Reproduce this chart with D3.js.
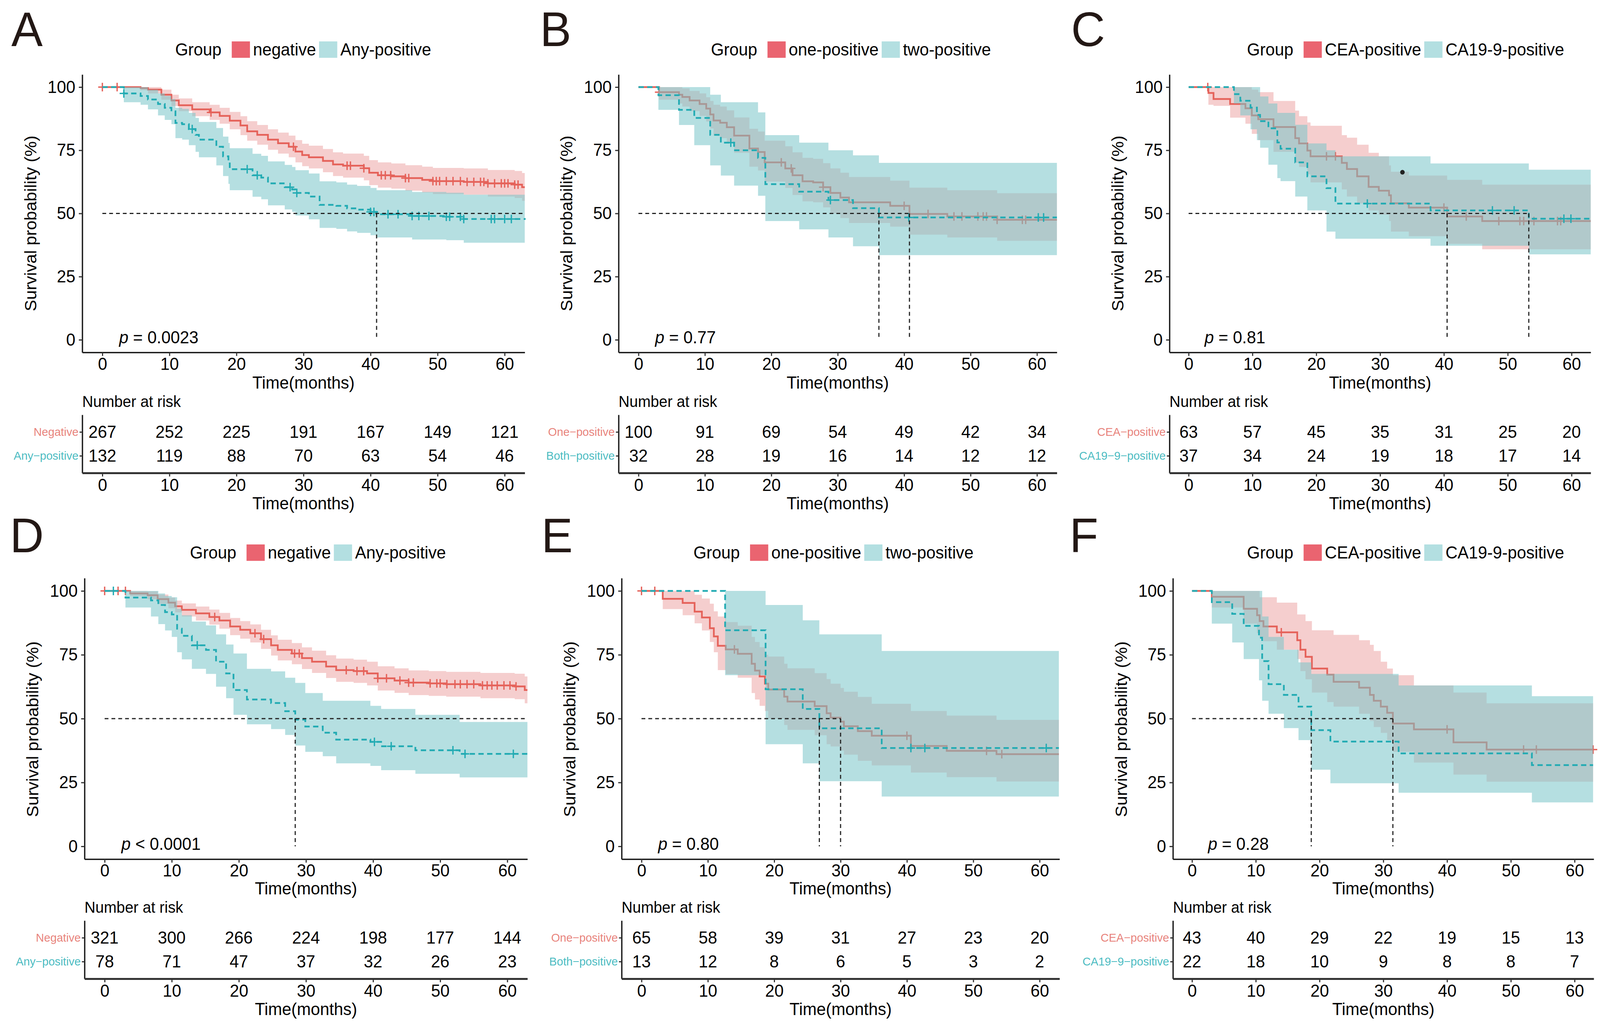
<!DOCTYPE html>
<html>
<head>
<meta charset="utf-8">
<script src="https://cdn.jsdelivr.net/npm/d3@7"></script>
<style>
  html, body { margin: 0; padding: 0; background: #fff; overflow: hidden; }
  svg { display: block; width: 100vw; height: 100vh; }
</style>
</head>
<body>
<svg id="fig" viewBox="0 0 4220 2627" preserveAspectRatio="none"></svg>
<script>
// ---- shared ticks / labels ----
const timeTicks = [0, 10, 20, 30, 40, 50, 60];
const survTicks = [0, 25, 50, 75, 100];

const legendAD = ["negative", "Any-positive"];
const legendBE = ["one-positive", "two-positive"];
const legendCF = ["CEA-positive", "CA19-9-positive"];
const riskLabAD = ["Negative", "Any\u2212positive"];
const riskLabBE = ["One\u2212positive", "Both\u2212positive"];
const riskLabCF = ["CEA\u2212positive", "CA19\u22129\u2212positive"];
const pTexts = ["= 0.0023", "= 0.77", "= 0.81", "< 0.0001", "= 0.80", "= 0.28"];

// ---- curves: [time, survival, lower CI, upper CI] (step starts) ----
// Panel A
const aNeg = [[0,100,100,100],[5.7,99.6,98.8,100],[6.8,99,97.5,100],[8.8,97,95,99],[10.3,94.7,92.5,97],[11.4,92.8,90.5,95.5],[13.4,91.2,88.5,94],[16,90,87,93],[17.5,88.6,85.5,91.8],[19,86.7,83.3,90.2],[20.6,84.8,81,88.5],[21.6,82.5,78.8,86.5],[23.1,81.1,77.2,85],[24.7,79.2,75.2,83.3],[26.2,77.8,73.7,82],[27.8,76.4,72.2,80.8],[28.8,74.5,70.2,79],[29.8,73.1,68.7,77.6],[30.8,72.2,67.8,76.8],[32.9,70.8,66.3,75.5],[34.4,69.4,64.8,74.2],[35.9,68.9,64.2,73.7],[39,67.9,63.1,72.8],[39.8,66.1,61.2,71.1],[41.1,65.1,60.2,70.2],[43.1,64.7,59.8,69.8],[45.2,64,59,69.1],[47.7,63.3,58.3,68.5],[49.3,62.8,57.7,68],[53.9,62.5,57.4,67.8],[57.5,61.9,56.7,67.2],[61.5,61.4,56.1,66.8],[62.6,60.4,55,66],[63,60.4,55,66]];
const aNegCens = [0,2.2,16.2,28.5,36.5,37,39,41.6,42.2,43,45.2,45.7,49.3,49.8,50.3,51.3,52.3,53.4,54.4,55.4,56.4,56.9,57.5,58.5,59.5,60,60.5,61.5,62];
const aPos = [[0,100,100,100],[3.2,97.5,94,100],[5.7,96.5,93,100],[6.8,95.1,91.2,99],[8.3,93.3,88.8,97.5],[9.3,91.8,87,96.5],[10.3,90.4,85.3,95.3],[10.9,85.8,79.8,91.8],[11.9,85.3,79.2,91.4],[12.9,83.4,77,89.8],[13.9,81.1,74.4,87.8],[14.4,79.2,72.2,86.2],[17,76.4,69,83.8],[18,72.6,64.8,80.4],[18.8,69.8,61.7,77.9],[19,67.5,59.2,75.8],[22.4,65.1,56.6,73.6],[23.7,64.2,55.6,72.8],[24.7,61.9,53.2,70.6],[27.2,60.4,51.6,69.2],[28.3,59.5,50.6,68.4],[28.8,58.1,49.2,67.1],[30.8,56.7,47.7,65.8],[32.4,53.4,44.3,62.7],[34.9,53,43.9,62.3],[36.5,52,42.9,61.4],[38,51.5,42.3,60.9],[40,50.6,41.4,60.1],[40.9,49.7,40.5,59.2],[46.2,49,39.7,58.5],[51.3,48.7,39.4,58.2],[53.9,47.8,38.4,57.4],[63,47.5,38.2,57.2]];
const aPosCens = [3.2,13.4,21.6,23.1,28,29,40,40.5,42.6,44.1,46.2,47.2,48.7,51.3,51.8,53.4,53.9,58,58.5,60,61];
const aRiskNeg = [267,252,225,191,167,149,121];
const aRiskPos = [132,119,88,70,63,54,46];

// Panel B
const bOne = [[0,100,100,100],[3.1,98,95,100],[6.1,97,93.5,100],[6.6,96.1,92.3,99.5],[7.7,94.7,90.5,98.5],[9.2,93.3,88.6,97.5],[10.2,91.5,86.4,96],[10.8,89.2,83.6,94.5],[11.3,86.8,80.8,93],[12.3,85.9,79.8,92.3],[13.3,84.1,77.8,90.8],[14.4,80.8,74,88],[16.7,75.7,68.5,83.5],[18,74.3,67,82.4],[19,70.2,62.6,78.8],[22.1,67.8,60.1,76.6],[23.2,65.1,57.3,74.2],[24.7,62.7,54.8,72],[26.3,62.3,54.4,71.6],[27.8,60.4,52.4,69.9],[28.9,58.1,50,67.8],[30.4,56.3,48.2,66.1],[31.7,54.4,46.2,64.4],[37.9,53,44.8,63],[40.8,49.8,41.6,60.2],[46.5,48.8,40.5,59.2],[54,47.5,39.2,58],[63,47.5,39.2,58]];
const bOneCens = [3.1,21.5,23,27.8,40,43.6,47.5,48.7,51.1,51.9,52.4,54,57.8,58.3];
const bTwo = [[0,100,100,100],[3,96.8,91,100],[6.1,91,85,100],[8.4,87.8,77,100],[10.8,81.1,69,97],[12.4,78,65,94],[14.4,75,61,94],[18,72,57,90],[19.1,61.6,47,81],[24.2,58.6,43.7,78],[28.6,55.3,40.5,75],[32.3,52.1,37,73],[36.2,48.4,33.5,70],[63,48.4,33.5,70]];
const bTwoCens = [13.9,28.9,40.7,60.2,61];
const bRiskOne = [100,91,69,54,49,42,34];
const bRiskTwo = [32,28,19,16,14,12,12];

// Panel C
const cCea = [[0,100,100,100],[3.1,97.7,93,100],[3.9,95.3,92.6,100],[6.5,93.3,87.9,100],[8.9,91.6,85.5,100],[9.9,88.8,81.5,99],[10.9,87.3,79,98],[13.3,84.2,74.4,94.5],[16.7,79.8,70,90.7],[17.3,77.7,68.4,88.5],[18.6,74.9,65.5,86],[19.1,72.6,62.3,84.7],[24,70,59.5,81],[24.8,67.6,56.7,80],[26.4,64.7,54,77.2],[28.2,60.5,51.2,74],[29.8,59,49.5,72.6],[31.4,57.2,47,69],[31.7,54,42.8,66.5],[34.5,52.3,41,65],[40.5,48.8,38,63.3],[46,47,35.8,61.4],[63,47,35.8,61.4]];
const cCeaCens = [3,21.6,23,40,43.5,48.6,51.9,52.5,54.1,57.8,58.3];
const cCa = [[0,100,100,100],[7.1,97.2,93.5,100],[8.1,94.6,88.8,100],[9.7,91.9,83.3,100],[10.7,89,79,100],[11.2,86.5,76,96.3],[12.5,83.7,69.3,93.5],[13.9,78.1,64,89.8],[14.4,75.6,62.8,89.8],[16.7,70.2,56.7,85.1],[18.6,64.7,51.2,77.7],[21.6,60,42.8,75],[23,53.9,40,72.6],[37.9,51.2,37.2,69.8],[53.3,47.9,33.8,67.3],[63,47.9,33.8,67.3]];
const cCaCens = [28,47.6,51,58.8,59.9];
const cStray = [[33.5, 66.3]];
const cRiskCea = [63,57,45,35,31,25,20];
const cRiskCa = [37,34,24,19,18,17,14];

// Panel D
const dNeg = [[0,100,100,100],[3.8,99,98,100],[6.4,98.3,96.8,99.8],[7.9,96.8,95,98.6],[9.5,95.4,93.2,97.4],[10.5,94,91.6,96.2],[11.5,92.6,90,95.1],[13.6,91.2,88.4,93.9],[15.6,89.8,86.8,92.7],[17.1,88.4,85.2,91.4],[18.7,86.1,82.7,89.4],[20.2,84.8,81.3,88.2],[21.7,83.4,79.8,86.9],[23.3,81.1,77.3,84.8],[24.8,78.7,74.7,82.6],[25.8,76.9,72.8,80.9],[27.9,75.5,71.3,79.6],[29.4,73.7,69.4,77.9],[30.9,72.3,67.9,76.6],[33,70.4,65.9,74.8],[34.5,69,64.4,73.5],[37.1,68.6,64,73.1],[39.1,67.7,63,72.3],[40.7,65.8,61,70.5],[43.2,64.9,60.1,69.7],[45.3,64.1,59.2,68.9],[48.3,63.8,58.9,68.6],[50.9,63.5,58.6,68.3],[56,63,58,67.9],[61.1,62.6,57.6,67.6],[62.6,61.2,56,66.5],[63,61.2,56,66.5]];
const dNegCens = [0,2,3.1,16.4,22.4,23.7,28.3,29,36,37.6,38.6,40.7,42,44,45.3,46,48.5,49.5,50,51,52.2,53,54,55,56.3,57,57.7,58.5,59.5,60.4,61.3];
const dPos = [[0,100,100,100],[3.1,97.4,93.5,100],[6.9,96.3,90,100],[8,94.5,87,99],[9,91.7,84.5,98],[10,90.8,82,97.5],[10.8,85.2,76,93],[11.5,82.4,73.2,90.5],[13,78.7,69.5,88],[15.1,76.9,67.5,86.5],[16.6,72.3,62.5,83],[18.1,67.7,58,79],[19.2,61.2,51.5,75.5],[21.2,57.5,47.8,69.5],[24.8,56.1,45.9,68.5],[26.9,52.9,43.6,66],[28.4,49.6,39.5,64],[29.9,46.9,37,60],[32.5,44.5,35.3,57],[34.5,41.8,32.5,57],[39.6,40.9,31.5,55],[41.2,39.2,29.8,53.8],[46.3,37.6,28.4,51.5],[52.9,36.2,27,48.7],[63,36.2,27,48.7]];
const dPosCens = [1.3,13.8,40.2,42.7,51.9,53.7,60.9];
const dRiskNeg = [321,300,266,224,198,177,144];
const dRiskPos = [78,71,47,37,32,26,23];

// Panel E
const eOne = [[0,100,100,100],[3.2,96.9,92.9,100],[6.2,95.3,90.5,100],[8,91.9,87.3,98.5],[9.1,89.6,84.5,97],[10.3,85.4,80,95],[10.9,82.2,76,92],[11.5,78.5,69,90],[12.7,77.1,67.4,87.8],[14.5,75.4,66,86.4],[16.6,71.5,60,82],[17.1,68.8,57.5,80],[17.8,66.5,55,78],[18.6,63.7,53,75],[19.1,61.4,50,74.3],[21.5,58.6,47.5,71.5],[22,56.7,45.6,69.7],[26.1,54.9,43.5,67.8],[27.9,52.1,40,65.5],[28.5,50.4,39.1,63.7],[30,48.8,37.5,62],[30.5,47,35.9,60.5],[32.6,45.1,33.5,58.5],[34.7,43.3,31.7,55.8],[40.6,39.3,28.9,53],[46,37.4,27.1,51.2],[53.5,36.1,25.4,49.5],[62.9,36.1,25.4,49.5]];
const eOneCens = [0,2,14,40,52,54.3];
const eTwo = [[0,100,100,100],[12.6,84.6,67,100],[18.7,61.5,40,94.5],[24.3,53.8,32.5,88.5],[26.8,46.2,25.5,83],[36.2,38.5,19.5,76.5],[62.9,38.5,19.5,76.5]];
const eTwoCens = [40.6,42.7,61];
const eRiskOne = [65,58,39,31,27,23,20];
const eRiskTwo = [13,12,8,6,5,3,2];

// Panel F
const fCea = [[0,100,100,100],[3.1,97.7,93.5,100],[8.1,93,87.2,100],[10.2,90.5,83.5,100],[10.6,88.2,82,97.5],[11.2,86.1,80.3,97.5],[13.3,83.8,77,95.4],[16.5,80.7,73.3,90.8],[17,77,68.6,90.8],[17.8,74.2,65.4,88.2],[18.8,69.6,60.2,84.6],[21.2,67.2,56.5,84.6],[22.2,64.4,54.7,82.8],[26.2,62.1,51.9,80.7],[27.9,59.3,49.1,78.9],[28.5,57,46.7,76.5],[29.6,54.7,44.4,72.3],[30.6,52.3,41.6,69.6],[31.5,48.1,37,67],[34.8,45.8,32.8,63],[41,40.7,28.1,60.2],[46.2,37.9,25.3,56],[62.9,37.9,25.3,56]];
const fCeaCens = [14,40,52,54,62.9];
const fCa = [[0,100,100,100],[3.1,95.6,87.2,100],[6.3,91,79.8,100],[8.1,86.3,73.3,100],[10.5,81.7,65,100],[11,72.5,57,90],[12,63.5,51.9,82],[14.4,59.3,46.3,77],[16.7,54.7,41.6,72],[18.7,45.5,30,67.5],[21.7,41,24.7,67.5],[32.4,36.4,21,63],[53.3,31.8,17.2,58.8],[62.9,31.8,17.2,58.8]];
const fCaCens = [];
const fRiskCea = [43,40,29,22,19,15,13];
const fRiskCa = [22,18,10,9,8,8,7];

// ---- layout ----
const rows = [
  { y100: 223, y0: 870, off: 0, legendY: 127, letterY: 118 },
  { y100: 1513, y0: 2167, off: 1295, legendY: 1415, letterY: 1414 }
];
const panels = [
  { letter: "A", letterX: 30, row: 0, x0: 270, x60: 1331, legendX: 462, curves: [aNeg, aPos], cens: [aNegCens, aPosCens], risk: [aRiskNeg, aRiskPos], legend: legendAD, riskLab: riskLabAD, p: pTexts[0] },
  { letter: "B", letterX: 1424, row: 0, x0: 1684, x60: 2735, legendX: 1875, curves: [bOne, bTwo], cens: [bOneCens, bTwoCens], risk: [bRiskOne, bRiskTwo], legend: legendBE, riskLab: riskLabBE, p: pTexts[1] },
  { letter: "C", letterX: 2825, row: 0, x0: 3135, x60: 4145, legendX: 3289, curves: [cCea, cCa], cens: [cCeaCens, cCaCens], risk: [cRiskCea, cRiskCa], legend: legendCF, riskLab: riskLabCF, p: pTexts[2], stray: cStray },
  { letter: "D", letterX: 26, row: 1, x0: 276, x60: 1338, legendX: 501, curves: [dNeg, dPos], cens: [dNegCens, dPosCens], risk: [dRiskNeg, dRiskPos], legend: legendAD, riskLab: riskLabAD, p: pTexts[3] },
  { letter: "E", letterX: 1428, row: 1, x0: 1692, x60: 2742, legendX: 1829, curves: [eOne, eTwo], cens: [eOneCens, eTwoCens], risk: [eRiskOne, eRiskTwo], legend: legendBE, riskLab: riskLabBE, p: pTexts[4] },
  { letter: "F", letterX: 2821, row: 1, x0: 3144, x60: 4153, legendX: 3289, curves: [fCea, fCa], cens: [fCeaCens, fCaCens], risk: [fRiskCea, fRiskCa], legend: legendCF, riskLab: riskLabCF, p: pTexts[5] }
];

// No Magic Number !
const font = "'Liberation Sans', Arial, Helvetica, sans-serif",
  lineColors = ["#E5625A", "#22ABB3"],
  bandColors = ["#E88A8A", "#78C4C8"],
  bandOpacity = [0.42, 0.55],
  keyColors = ["#EA6470", "#B3DFE1"],
  riskLabColors = ["#E8837C", "#4CBCC2"],
  textSize = 44;

const svg = d3.select("svg#fig");
svg.append("rect").attr("width", 4220).attr("height", 2627).attr("fill", "#fff");

panels.forEach(drawPanel);

function survAt(curve, t) {
  let s = curve[0][1];
  curve.forEach(r => { if (r[0] <= t) s = r[1]; });
  return s;
}

function medianOf(curve) {
  const hit = curve.find(r => r[1] <= 50);
  return hit ? hit[0] : null;
}

function styleAxis(sel, size) {
  sel.attr("font-family", font).attr("font-size", size).attr("color", "#000");
  sel.selectAll("path.domain").attr("stroke", "#1a1a1a").attr("stroke-width", 3.5);
  sel.selectAll(".tick line").attr("stroke", "#333").attr("stroke-width", 3);
}

function drawPanel(p) {
  const r = rows[p.row];
  const ppm = (p.x60 - p.x0) / 60;
  const ppu = (r.y0 - r.y100) / 100;
  const x = d3.scaleLinear().domain([-3, 63]).range([p.x0 - 3 * ppm, p.x0 + 63 * ppm]);
  const y = d3.scaleLinear().domain([-5, 105]).range([r.y0 + 5 * ppu, r.y100 - 5 * ppu]);
  const left = x(-3), right = x(63), midX = (left + right) / 2;
  const g = svg.append("g").attr("font-family", font);

  // panel letter
  g.append("text").text(p.letter)
    .attr("x", p.letterX).attr("y", r.letterY)
    .attr("font-size", 124).attr("fill", "#231815");

  drawLegend(g, p, r);

  // bands, lines, censor marks per group
  const area = d3.area().curve(d3.curveStepAfter)
    .x(d => x(d[0])).y0(d => y(d[2])).y1(d => y(d[3]));
  const line = d3.line().curve(d3.curveStepAfter)
    .x(d => x(d[0])).y(d => y(d[1]));

  p.curves.forEach((curve, i) => {
    g.append("path").attr("d", area(curve))
      .attr("fill", bandColors[i]).attr("fill-opacity", bandOpacity[i]);
    g.append("path").attr("d", line(curve))
      .attr("fill", "none").attr("stroke", lineColors[i]).attr("stroke-width", 4.5)
      .attr("stroke-dasharray", i === 1 ? "14,9" : null);
    p.cens[i].forEach(t => {
      g.append("path")
        .attr("d", "M-11,0H11M0,-11V11")
        .attr("transform", `translate(${x(t)},${y(survAt(curve, t))})`)
        .attr("stroke", lineColors[i]).attr("stroke-width", 3.5);
    });
  });

  if (p.stray) {
    p.stray.forEach(d => {
      g.append("circle").attr("cx", x(d[0])).attr("cy", y(d[1])).attr("r", 6).attr("fill", "#222");
    });
  }

  // median lines
  const meds = p.curves.map(medianOf);
  const hEnd = meds.some(m => m === null) ? 63 : d3.max(meds);
  g.append("line")
    .attr("x1", x(0)).attr("x2", x(hEnd)).attr("y1", y(50)).attr("y2", y(50))
    .attr("stroke", "#222").attr("stroke-width", 3).attr("stroke-dasharray", "10,8");
  meds.filter(m => m !== null).forEach(m => {
    g.append("line")
      .attr("x1", x(m)).attr("x2", x(m)).attr("y1", y(50)).attr("y2", y(0))
      .attr("stroke", "#222").attr("stroke-width", 3).attr("stroke-dasharray", "10,8");
  });

  // p-value
  const pt = g.append("text").attr("x", x(2.5)).attr("y", y(1)).attr("dy", "0.35em")
    .attr("font-size", textSize).attr("fill", "#000");
  pt.append("tspan").attr("font-style", "italic").text("p");
  pt.append("tspan").text(" " + p.p);

  // axes
  const yAxis = g.append("g").attr("transform", `translate(${left},0)`)
    .call(d3.axisLeft(y).tickValues(survTicks).tickSize(9).tickPadding(9).tickSizeOuter(0));
  styleAxis(yAxis, textSize);
  const xAxis = g.append("g").attr("transform", `translate(0,${y(-5)})`)
    .call(d3.axisBottom(x).tickValues(timeTicks).tickSize(9).tickPadding(4).tickSizeOuter(0));
  styleAxis(xAxis, textSize);

  g.append("text").text("Time(months)")
    .attr("x", midX).attr("y", r.off + 995).attr("text-anchor", "middle").attr("font-size", textSize);
  g.append("text").text("Survival probability (%)")
    .attr("transform", `translate(${left - 137},${r.off + 572}) rotate(-90)`)
    .attr("text-anchor", "middle").attr("dy", "0.35em").attr("font-size", textSize);

  // risk table
  g.append("text").text("Number at risk")
    .attr("x", left).attr("y", r.off + 1042).attr("font-size", 40);

  const tableY = d3.scalePoint().domain(p.riskLab).range([r.off + 1062, r.off + 1211]).padding(0.72);
  p.risk.forEach((counts, i) => {
    counts.forEach((n, j) => {
      g.append("text").text(n)
        .attr("x", x(timeTicks[j])).attr("y", tableY(p.riskLab[i])).attr("dy", "0.35em")
        .attr("text-anchor", "middle").attr("font-size", textSize).attr("fill", "#000");
    });
  });
  const tyAxis = g.append("g").attr("transform", `translate(${left},0)`)
    .call(d3.axisLeft(tableY).tickSize(7).tickPadding(3).tickSizeOuter(0));
  styleAxis(tyAxis, 30);
  tyAxis.selectAll(".tick text").attr("fill", (d, i) => riskLabColors[i]);

  const txAxis = g.append("g").attr("transform", `translate(0,${r.off + 1211})`)
    .call(d3.axisBottom(x).tickValues(timeTicks).tickSize(9).tickPadding(6).tickSizeOuter(0));
  styleAxis(txAxis, textSize);
  txAxis.select("path.domain").attr("stroke-width", 5).attr("stroke", "#333");

  g.append("text").text("Time(months)")
    .attr("x", midX).attr("y", r.off + 1304).attr("text-anchor", "middle").attr("font-size", textSize);
}

function drawLegend(g, p, r) {
  let lx = p.legendX;
  const ly = r.legendY;
  const title = g.append("text").text("Group")
    .attr("x", lx).attr("y", ly).attr("dy", "0.35em").attr("font-size", textSize);
  lx += title.node().getComputedTextLength() + 27;
  p.legend.forEach((lab, i) => {
    g.append("rect").attr("x", lx).attr("y", ly - 21).attr("width", 48).attr("height", 42)
      .attr("fill", keyColors[i]);
    lx += 48 + 8;
    const t = g.append("text").text(lab)
      .attr("x", lx).attr("y", ly).attr("dy", "0.35em").attr("font-size", textSize);
    lx += t.node().getComputedTextLength() + 8;
  });
}
</script>
</body>
</html>
